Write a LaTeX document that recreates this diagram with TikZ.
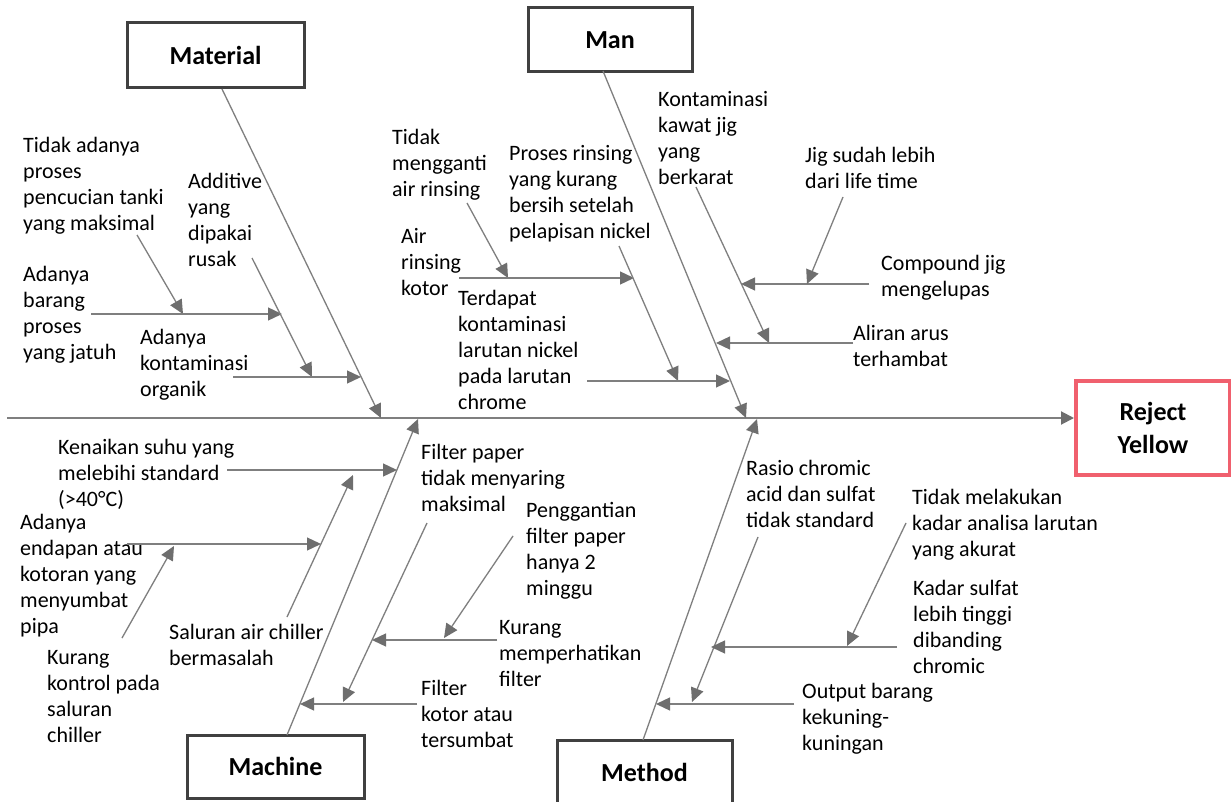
\documentclass[tikz,border=0pt]{standalone}
\usepackage{fontspec}
\setmainfont{Carlito}
\usetikzlibrary{arrows.meta}
\definecolor{linegray}{HTML}{7F7F7F}
\definecolor{tipgray}{HTML}{6E6E6E}
\definecolor{boxgray}{HTML}{404040}
\definecolor{rejred}{HTML}{F0606E}
\tikzset{
  lbl/.style={anchor=north west, inner sep=0pt, align=left, font=\fontsize{22}{26}\selectfont},
  catbox/.style={draw=boxgray, line width=3pt, fill=white, inner sep=0pt, font=\bfseries\fontsize{26}{30}\selectfont},
  bone/.style={draw=linegray, line width=1.3pt, -{Triangle[length=14pt,width=13pt,color=tipgray]}},
  spine/.style={draw=linegray, line width=2pt, -{Triangle[length=13pt,width=13pt,color=tipgray]}},
}
\begin{document}
\begin{tikzpicture}[x=1pt,y=-1pt]
\useasboundingbox (0,0) rectangle (1231,802);
\clip (0,0) rectangle (1231,802);
\fill[white] (0,0) rectangle (1231,802);

% category boxes
\node[catbox, minimum width=177pt, minimum height=65pt] (mat) at (215.5,55.5) {Material};
\node[catbox, minimum width=164pt, minimum height=64pt] (man) at (610,40) {Man};
\node[catbox, minimum width=177pt, minimum height=63pt] (mac) at (275.5,766.5) {Machine};
\node[catbox, minimum width=175pt, minimum height=65pt] (met) at (644.5,772.5) {Method};
\node[draw=rejred, line width=4pt, fill=white, inner sep=0pt, align=center,
      minimum width=154pt, minimum height=94pt, font=\bfseries\fontsize{26}{33}\selectfont]
      (rej) at (1153,427.5) {Reject\\Yellow};

% spine
\coordinate (sp0) at (7,418);
\draw[spine] (sp0) -- (sp0 -| rej.west);

% main bones
\coordinate (matS) at (222,89);  \coordinate (matE) at (381,418);
\coordinate (manS) at (603,71);  \coordinate (manE) at (746,418);
\coordinate (macS) at (287,735); \coordinate (macE) at (418,419);
\coordinate (metS) at (643,740); \coordinate (metE) at (757,419);
\draw[bone] (matS) -- (matE);
\draw[bone] (manS) -- (manE);
\draw[bone] (macS) -- (macE);
\draw[bone] (metS) -- (metE);

% ---------- Material labels
\node[lbl] (m1) at (23,134) {\strut Tidak adanya\\proses\\pencucian tanki\\yang maksimal};
\node[lbl] (m2) at (188,170) {\strut Additive\\yang\\dipakai\\rusak};
\node[lbl] (m3) at (23,263) {\strut Adanya\\barang\\proses\\yang jatuh};
\node[lbl] (m4) at (140,326) {\strut Adanya\\kontaminasi\\organik};
\coordinate (m1s) at (137,235); \coordinate (m1e) at (183,314);
\coordinate (m3s) at (91,314);  \coordinate (m3e) at (282,314);
\coordinate (m2s) at (252,258); \coordinate (m2e) at (312,377);
\coordinate (m4s) at (233,377); \coordinate (m4e) at (361,377);
\draw[bone] (m1s) -- (m1e);
\draw[bone] (m3s) -- (m3e);
\draw[bone] (m2s) -- (m2e);
\draw[bone] (m4s) -- (m4e);

% ---------- Man labels
\node[lbl] (n1) at (392,126) {\strut Tidak\\mengganti\\air rinsing};
\node[lbl] (n2) at (509,142) {\strut Proses rinsing\\yang kurang\\bersih setelah\\pelapisan nickel};
\node[lbl] (n3) at (658,88) {\strut Kontaminasi\\kawat jig\\yang\\berkarat};
\node[lbl] (n4) at (401,225) {\strut Air\\rinsing\\kotor};
\node[lbl] (n5) at (458,287) {\strut Terdapat\\kontaminasi\\larutan nickel\\pada larutan\\chrome};
\node[lbl] (n6) at (805,144) {\strut Jig sudah lebih\\dari life time};
\node[lbl] (n7) at (881,252) {\strut Compound jig\\mengelupas};
\node[lbl] (n8) at (853,322) {\strut Aliran arus\\terhambat};
\coordinate (n1s) at (467,203); \coordinate (n1e) at (508,278);
\coordinate (n4s) at (459,278); \coordinate (n4e) at (634,278);
\coordinate (n2s) at (619,246); \coordinate (n2e) at (678,381);
\coordinate (n5s) at (587,381); \coordinate (n5e) at (730,381);
\coordinate (n3s) at (696,187); \coordinate (n3e) at (769,343);
\coordinate (n7s) at (869,284); \coordinate (n7e) at (741,284);
\coordinate (n6s) at (843,197); \coordinate (n6e) at (807,284);
\coordinate (n8s) at (853,343); \coordinate (n8e) at (716,343);
\draw[bone] (n1s) -- (n1e);
\draw[bone] (n4s) -- (n4e);
\draw[bone] (n2s) -- (n2e);
\draw[bone] (n5s) -- (n5e);
\draw[bone] (n3s) -- (n3e);
\draw[bone] (n7s) -- (n7e);
\draw[bone] (n6s) -- (n6e);
\draw[bone] (n8s) -- (n8e);

% ---------- Machine labels
\node[lbl] (c1) at (58,436) {\strut Kenaikan suhu yang\\melebihi standard\\(>40°C)};
\node[lbl] (c2) at (20,511) {\strut Adanya\\endapan atau\\kotoran yang\\menyumbat\\pipa};
\node[lbl] (c3) at (47,646) {\strut Kurang\\kontrol pada\\saluran\\chiller};
\node[lbl] (c4) at (169,621) {\strut Saluran air chiller\\bermasalah};
\node[lbl] (c5) at (421,441) {\strut Filter paper\\tidak menyaring\\maksimal};
\node[lbl] (c6) at (526,499) {\strut Penggantian\\filter paper\\hanya 2\\minggu};
\node[lbl] (c7) at (499,616) {\strut Kurang\\memperhatikan\\filter};
\node[lbl] (c8) at (421,677) {\strut Filter\\kotor atau\\tersumbat};
\coordinate (c1s) at (227,470); \coordinate (c1e) at (397,470);
\coordinate (c4s) at (287,617); \coordinate (c4e) at (353,475);
\coordinate (c2s) at (127,544); \coordinate (c2e) at (321,544);
\coordinate (c3s) at (122,638); \coordinate (c3e) at (174,546);
\coordinate (c5s) at (427,523); \coordinate (c5e) at (343,702);
\coordinate (c7s) at (497,640); \coordinate (c7e) at (372,640);
\coordinate (c6s) at (513,536); \coordinate (c6e) at (444,638);
\coordinate (c8s) at (417,704); \coordinate (c8e) at (300,704);
\draw[bone] (c1s) -- (c1e);
\draw[bone] (c4s) -- (c4e);
\draw[bone] (c2s) -- (c2e);
\draw[bone] (c3s) -- (c3e);
\draw[bone] (c5s) -- (c5e);
\draw[bone] (c7s) -- (c7e);
\draw[bone] (c6s) -- (c6e);
\draw[bone] (c8s) -- (c8e);

% ---------- Method labels
\node[lbl] (t1) at (746,457) {\strut Rasio chromic\\acid dan sulfat\\tidak standard};
\node[lbl] (t2) at (912,486) {\strut Tidak melakukan\\kadar analisa larutan\\yang akurat};
\node[lbl] (t3) at (913,577) {\strut Kadar sulfat\\lebih tinggi\\dibanding\\chromic};
\node[lbl] (t4) at (802,680) {\strut Output barang\\kekuning-\\kuningan};
\coordinate (t1s) at (758,537); \coordinate (t1e) at (692,702);
\coordinate (t3s) at (897,647); \coordinate (t3e) at (711,647);
\coordinate (t2s) at (906,523); \coordinate (t2e) at (847,646);
\coordinate (t4s) at (794,704); \coordinate (t4e) at (656,704);
\draw[bone] (t1s) -- (t1e);
\draw[bone] (t3s) -- (t3e);
\draw[bone] (t2s) -- (t2e);
\draw[bone] (t4s) -- (t4e);
\end{tikzpicture}
\end{document}
